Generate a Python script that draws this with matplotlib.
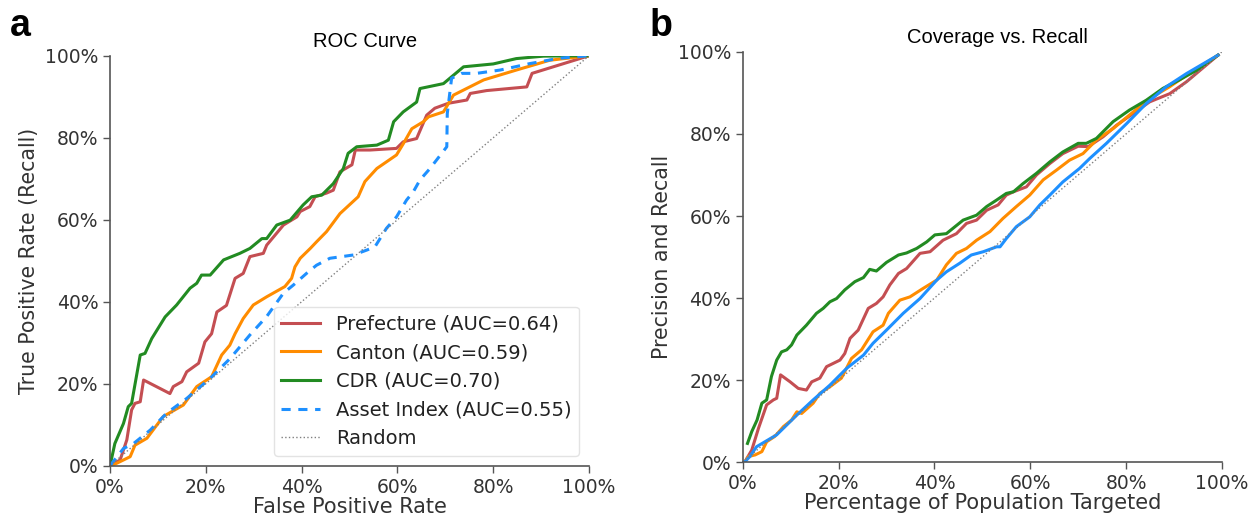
import matplotlib.pyplot as plt
from matplotlib.ticker import PercentFormatter

# ROC curve points (FPR, TPR)
cdr_fpr = [0, 0.010, 0.028, 0.038, 0.045, 0.063, 0.073, 0.087, 0.115, 0.139, 0.167, 0.181, 0.191,
           0.209, 0.237, 0.271, 0.292, 0.317, 0.327, 0.348, 0.376, 0.403, 0.421, 0.442, 0.466,
           0.487, 0.497, 0.515, 0.557, 0.581, 0.592, 0.612, 0.640, 0.647, 0.696, 0.738, 0.800,
           0.848, 0.905, 1.0]
cdr_tpr = [0, 0.054, 0.103, 0.144, 0.152, 0.270, 0.274, 0.310, 0.363, 0.392, 0.433, 0.445, 0.465,
           0.465, 0.502, 0.518, 0.530, 0.554, 0.554, 0.587, 0.599, 0.636, 0.656, 0.660, 0.688,
           0.725, 0.762, 0.778, 0.782, 0.794, 0.839, 0.863, 0.887, 0.920, 0.932, 0.973, 0.980,
           0.993, 0.999, 1.0]

pref_fpr = [0, 0.021, 0.035, 0.045, 0.052, 0.063, 0.070, 0.125, 0.132, 0.150, 0.160, 0.185, 0.198,
            0.212, 0.223, 0.243, 0.261, 0.278, 0.292, 0.320, 0.327, 0.362, 0.390, 0.397, 0.417,
            0.428, 0.452, 0.466, 0.480, 0.505, 0.512, 0.543, 0.598, 0.612, 0.640, 0.661, 0.678,
            0.706, 0.745, 0.752, 0.786, 0.870, 0.881, 1.0]
pref_tpr = [0, 0.014, 0.063, 0.136, 0.152, 0.156, 0.209, 0.176, 0.193, 0.205, 0.229, 0.250, 0.302,
            0.322, 0.375, 0.391, 0.457, 0.469, 0.510, 0.518, 0.538, 0.587, 0.607, 0.620, 0.632,
            0.656, 0.665, 0.672, 0.717, 0.734, 0.770, 0.770, 0.774, 0.790, 0.798, 0.855, 0.872,
            0.884, 0.892, 0.908, 0.915, 0.924, 0.957, 1.0]

canton_fpr = [0, 0.014, 0.042, 0.052, 0.077, 0.111, 0.153, 0.181, 0.212, 0.233, 0.250, 0.261,
              0.278, 0.299, 0.327, 0.365, 0.379, 0.386, 0.397, 0.418, 0.431, 0.452, 0.480, 0.518,
              0.532, 0.557, 0.598, 0.612, 0.630, 0.654, 0.665, 0.696, 0.717, 0.780, 0.848, 0.918, 1.0]
canton_tpr = [0, 0.006, 0.022, 0.050, 0.067, 0.120, 0.148, 0.193, 0.217, 0.270, 0.294, 0.322,
              0.359, 0.392, 0.412, 0.437, 0.457, 0.485, 0.506, 0.530, 0.546, 0.571, 0.615, 0.656,
              0.693, 0.725, 0.758, 0.785, 0.822, 0.839, 0.851, 0.863, 0.904, 0.941, 0.965, 0.989, 1.0]

asset_fpr = [0, 0.028, 0.049, 0.084, 0.118, 0.160, 0.209, 0.251, 0.292, 0.327, 0.362, 0.383, 0.411,
             0.431, 0.459, 0.508, 0.536, 0.553, 0.577, 0.598, 0.619, 0.633, 0.647, 0.668, 0.703,
             0.704, 0.713, 0.734, 0.765, 0.814, 0.877, 0.939, 1.0]
asset_tpr = [0, 0.042, 0.054, 0.087, 0.128, 0.164, 0.213, 0.262, 0.319, 0.364, 0.421, 0.441, 0.470,
             0.489, 0.506, 0.514, 0.526, 0.534, 0.579, 0.607, 0.648, 0.668, 0.697, 0.725, 0.778,
             0.859, 0.945, 0.957, 0.957, 0.965, 0.981, 0.994, 1.0]

# Coverage vs recall points (share targeted, recall)
cov_cdr_x = [0.010, 0.019, 0.030, 0.040, 0.050, 0.060, 0.071, 0.081, 0.092, 0.102, 0.113, 0.133,
             0.154, 0.168, 0.182, 0.196, 0.213, 0.234, 0.252, 0.265, 0.279, 0.300, 0.325, 0.342,
             0.363, 0.384, 0.401, 0.425, 0.460, 0.488, 0.509, 0.530, 0.550, 0.565, 0.585, 0.613,
             0.641, 0.668, 0.700, 0.717, 0.738, 0.773, 0.807, 0.842, 0.877, 0.912, 0.947, 0.992]
cov_cdr_y = [0.046, 0.075, 0.103, 0.144, 0.152, 0.209, 0.249, 0.269, 0.274, 0.286, 0.310, 0.334,
             0.363, 0.375, 0.391, 0.399, 0.420, 0.440, 0.450, 0.470, 0.466, 0.487, 0.505, 0.510,
             0.521, 0.537, 0.554, 0.557, 0.590, 0.602, 0.623, 0.639, 0.655, 0.659, 0.679, 0.704,
             0.732, 0.756, 0.777, 0.777, 0.789, 0.830, 0.858, 0.882, 0.911, 0.932, 0.955, 0.992]

cov_pref_x = [0.005, 0.019, 0.033, 0.050, 0.064, 0.071, 0.079, 0.099, 0.116, 0.133, 0.144, 0.161,
              0.175, 0.189, 0.203, 0.213, 0.224, 0.241, 0.262, 0.279, 0.293, 0.307, 0.325, 0.342,
              0.370, 0.391, 0.418, 0.446, 0.467, 0.488, 0.509, 0.533, 0.550, 0.565, 0.592, 0.613,
              0.641, 0.668, 0.700, 0.721, 0.752, 0.780, 0.815, 0.849, 0.891, 0.926, 0.992]
cov_pref_y = [0.002, 0.030, 0.083, 0.140, 0.152, 0.156, 0.213, 0.196, 0.180, 0.176, 0.196, 0.205,
              0.233, 0.241, 0.249, 0.265, 0.302, 0.322, 0.375, 0.387, 0.403, 0.432, 0.460, 0.472,
              0.509, 0.513, 0.541, 0.557, 0.582, 0.590, 0.614, 0.627, 0.651, 0.659, 0.671, 0.700,
              0.728, 0.752, 0.770, 0.769, 0.793, 0.821, 0.850, 0.878, 0.898, 0.927, 0.992]

cov_canton_x = [0.005, 0.012, 0.026, 0.040, 0.050, 0.067, 0.085, 0.102, 0.113, 0.123, 0.147, 0.161,
                0.182, 0.206, 0.227, 0.248, 0.272, 0.293, 0.304, 0.328, 0.349, 0.377, 0.405, 0.425,
                0.446, 0.467, 0.488, 0.516, 0.543, 0.571, 0.599, 0.627, 0.655, 0.682, 0.710, 0.738,
                0.773, 0.807, 0.849, 0.891, 0.926, 0.992]
cov_canton_y = [0.002, 0.014, 0.018, 0.026, 0.050, 0.063, 0.087, 0.103, 0.123, 0.119, 0.144, 0.168,
                0.184, 0.205, 0.253, 0.274, 0.318, 0.334, 0.363, 0.395, 0.403, 0.424, 0.444, 0.481,
                0.509, 0.521, 0.541, 0.562, 0.594, 0.623, 0.651, 0.688, 0.712, 0.736, 0.752, 0.785,
                0.813, 0.846, 0.886, 0.915, 0.943, 0.992]

cov_asset_x = [0.005, 0.015, 0.029, 0.071, 0.113, 0.147, 0.182, 0.217, 0.252, 0.272, 0.300, 0.335,
               0.370, 0.405, 0.425, 0.453, 0.477, 0.502, 0.530, 0.537, 0.550, 0.571, 0.599, 0.620,
               0.641, 0.668, 0.703, 0.724, 0.759, 0.801, 0.842, 0.884, 0.926, 0.992]
cov_asset_y = [0.002, 0.014, 0.038, 0.067, 0.115, 0.152, 0.188, 0.229, 0.261, 0.290, 0.322, 0.363,
               0.399, 0.444, 0.464, 0.485, 0.505, 0.513, 0.525, 0.525, 0.545, 0.574, 0.598, 0.627,
               0.651, 0.683, 0.716, 0.740, 0.777, 0.825, 0.874, 0.915, 0.947, 0.992]

red = '#c44e52'
orange = '#ff8c00'
green = '#228b22'
blue = '#1e90ff'

fig = plt.figure(figsize=(12.52, 5.17), dpi=100)
ax1 = fig.add_axes([0.0879, 0.0992, 0.3826, 0.793])
ax2 = fig.add_axes([0.5932, 0.1058, 0.3828, 0.794])

lw = 2.2
ax1.plot(pref_fpr, pref_tpr, color=red, lw=lw, label='Prefecture (AUC=0.64)')
ax1.plot(canton_fpr, canton_tpr, color=orange, lw=lw, label='Canton (AUC=0.59)')
ax1.plot(cdr_fpr, cdr_tpr, color=green, lw=lw, label='CDR (AUC=0.70)')
ax1.plot(asset_fpr, asset_tpr, color=blue, lw=lw, ls=(0, (3, 2.5)), label='Asset Index (AUC=0.55)')
ax1.plot([0, 1], [0, 1], color='gray', lw=1, ls=':', label='Random')

ax2.plot(cov_pref_x, cov_pref_y, color=red, lw=lw)
ax2.plot(cov_canton_x, cov_canton_y, color=orange, lw=lw)
ax2.plot(cov_cdr_x, cov_cdr_y, color=green, lw=lw)
ax2.plot(cov_asset_x, cov_asset_y, color=blue, lw=lw)
ax2.plot([0, 1], [0, 1], color='gray', lw=1, ls=':')

for ax in (ax1, ax2):
    ax.set_xlim(0, 1)
    ax.set_ylim(0, 1)
    ax.set_xticks([0, 0.2, 0.4, 0.6, 0.8, 1.0])
    ax.set_yticks([0, 0.2, 0.4, 0.6, 0.8, 1.0])
    ax.xaxis.set_major_formatter(PercentFormatter(1.0, decimals=0))
    ax.yaxis.set_major_formatter(PercentFormatter(1.0, decimals=0))
    ax.tick_params(labelsize=13.5, length=5, width=1, colors='#555555', labelcolor='#333333')
    for side in ('top', 'right'):
        ax.spines[side].set_visible(False)
    for side in ('left', 'bottom'):
        ax.spines[side].set_color('#555555')
        ax.spines[side].set_linewidth(1.2)

ax1.set_xlabel('False Positive Rate', fontsize=15, color='#333333', labelpad=0)
ax1.set_ylabel('True Positive Rate (Recall)', fontsize=14.8, color='#333333', labelpad=4)
ax2.set_xlabel('Percentage of Population Targeted', fontsize=15, color='#333333', labelpad=0)
ax2.set_ylabel('Precision and Recall', fontsize=14.8, color='#333333', labelpad=4)

ax1.set_title('ROC Curve', fontsize=14.5, family='Liberation Sans', pad=6, x=0.532)
ax2.set_title('Coverage vs. Recall', fontsize=14.5, family='Liberation Sans', pad=6, x=0.532)

leg = ax1.legend(loc='lower right', fontsize=14, frameon=True, fancybox=True,
                 handlelength=2.0, labelspacing=0.5, borderpad=0.4)
leg.get_frame().set_edgecolor('#dddddd')
for t in leg.get_texts():
    t.set_color('#222222')

fig.text(0.008, 0.93, 'a', fontsize=27, fontweight='bold', family='Liberation Sans')
fig.text(0.519, 0.93, 'b', fontsize=27, fontweight='bold', family='Liberation Sans')

fig.savefig('out.png', dpi=100)
